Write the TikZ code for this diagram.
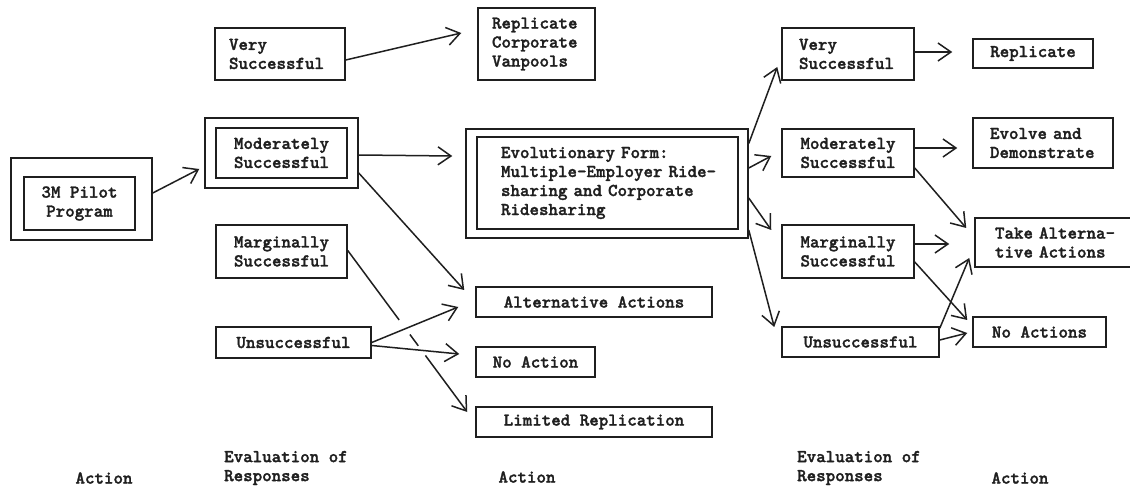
\documentclass[tikz,border=0pt]{standalone}
\usepackage{fontspec}
\usetikzlibrary{arrows.meta,calc}
\definecolor{ink}{rgb}{0.12,0.12,0.12}
\newfontfamily\typewriterbold{lmmonolt10-bold.otf}[FakeBold=1.6]
\newcommand\diagfont{\fontsize{18.1}{19}\selectfont\typewriterbold}
\tikzset{
  box/.style={draw=ink, line width=1.5pt, inner sep=0pt, text=ink, font=\diagfont},
  cbox/.style={box, align=center},
  lbox/.style={box, align=left},
  link/.style={draw=ink, line width=1.5pt},
  arr/.style={link, -{Straight Barb[length=13pt,width=18pt]}},
  lab/.style={text=ink, font=\diagfont, inner sep=0pt, align=left},
}
\begin{document}
\begin{tikzpicture}[x=1pt,y=-1pt]
\clip (0,0) rectangle (1130,486);
\fill[white] (0,0) rectangle (1130,486);

% ---- first action and its evaluation
\node[box, minimum width=141pt, minimum height=82pt] (pilot) at (81.5,199) {};
\node[cbox, minimum width=111pt, minimum height=53pt] (pilotin) at (79.5,203.5) {3M Pilot\\Program};

\node[lbox, text width=102pt, inner xsep=14pt, minimum height=52pt] (vs1) at (280,54) {Very\\Successful};
\node[box, minimum width=153pt, minimum height=70pt] (ms1) at (281.5,153) {};
\node[cbox, minimum width=131pt, minimum height=50pt] (ms1in) at (281.5,153) {Moderately\\Successful};
\node[cbox, minimum width=131pt, minimum height=53pt] (mg1) at (281.5,251.5) {Marginally\\Successful};
\node[cbox, minimum width=155pt, minimum height=31pt] (us1) at (293.5,342.5) {Unsuccessful};

% ---- second action
\node[lbox, text width=89pt, inner xsep=14pt, minimum height=72pt] (rcv) at (536.5,44) {Replicate\\Corporate\\Vanpools};
\node[box, minimum width=282pt, minimum height=109pt] (evo) at (607,183.5) {};
\node[lbox, text width=213pt, inner xsep=24pt, minimum height=92pt] (evoin) at (607.5,183)
  {\mbox{Evolutionary Form:}\\\mbox{Multiple-Employer Ride-}\\\mbox{sharing and Corporate}\\\mbox{Ridesharing}};
\node[cbox, minimum width=236pt, minimum height=30pt] (alt) at (594,302) {Alternative Actions};
\node[cbox, minimum width=119pt, minimum height=30pt] (noa) at (535.5,362) {No Action};
\node[cbox, minimum width=236pt, minimum height=30pt] (lim) at (594,422) {Limited Replication};

% ---- second evaluation
\node[lbox, text width=98pt, inner xsep=17pt, minimum height=52pt] (vs2) at (848,54) {Very\\Successful};
\node[cbox, minimum width=132pt, minimum height=48pt] (ms2) at (848,153) {Moderately\\Successful};
\node[cbox, minimum width=132pt, minimum height=53pt] (mg2) at (848,251.5) {Marginally\\Successful};
\node[cbox, minimum width=157pt, minimum height=30pt] (us2) at (860.5,342) {Unsuccessful};

% ---- third action
\node[cbox, minimum width=120pt, minimum height=29pt] (rep) at (1033,53.5) {Replicate};
\node[lbox, text width=106pt, inner xsep=17pt, minimum height=50pt] (evd) at (1043,143) {Evolve and\\\mbox{Demonstrate}};
\node[lbox, text width=117pt, inner xsep=20pt, minimum height=49pt] (tak) at (1053.5,242.5) {\mbox{Take Alterna-}\\\mbox{tive Actions}};
\node[cbox, minimum width=133pt, minimum height=30pt] (noas) at (1039.5,332) {No Actions};

% ---- column captions
\node[lab] (act1) at (104,478) {Action};
\node[lab, anchor=west] (eval1) at (224,468) {Evaluation of\\Responses};
\node[lab] (act2) at (527,477) {Action};
\node[lab, anchor=west] (eval2) at (797,468) {Evaluation of\\Responses};
\node[lab] (act3) at (1020,478) {Action};

% ---- connectors, left half
\draw[arr] ($(pilot.east)+(0,-6)$) -- ($(ms1.west)+(-5,16)$);
\draw[arr] ($(vs1.east)+(0,6)$) -- ($(rcv.west)+(-16,-11)$);
\draw[arr] ($(ms1.east)+(0,2)$) -- ($(evo.west)+(-13,-27.5)$);
\draw[arr] ($(ms1.east)+(0,20)$) -- ($(alt.west)+(-11,-12)$);
\coordinate (mgs) at ($(mg1.east)+(0,-1)$);
\coordinate (mge) at ($(lim.west)+(-8,-10)$);
\draw[link] (mgs) -- ($(mgs)!0.43!(mge)$);
\draw[link] ($(mgs)!0.52!(mge)$) -- ($(mgs)!0.59!(mge)$);
\draw[arr] ($(mgs)!0.65!(mge)$) -- (mge);
\draw[arr] (us1.east) -- ($(alt.west)+(-17,5)$);
\draw[arr] ($(us1.east)+(0,3)$) -- ($(noa.west)+(-16,-8)$);

% ---- connectors, right half
\draw[arr] ($(evo.east)+(0,-40)$) -- ($(vs2.west)+(-4,13)$);
\draw[arr] ($(evo.east)+(0,-15.5)$) -- ($(ms2.west)+(-10,3)$);
\draw[arr] ($(evo.east)+(0,14.5)$) -- ($(mg2.west)+(-10,-21.5)$);
\draw[arr] ($(evo.east)+(0,46.5)$) -- ($(us2.west)+(-7,-15)$);
\draw[arr] ($(vs2.east)+(0,-2)$) -- ($(rep.west)+(-20,-1.5)$);
\draw[arr] ($(ms2.east)+(0,-5)$) -- ($(evd.west)+(-15,5)$);
\draw[arr] ($(ms2.east)+(0,15)$) -- ($(tak.west)+(-8,-14.5)$);
\draw[arr] ($(mg2.east)+(0,-7.5)$) -- ($(tak.west)+(-25,1.5)$);
\draw[arr] ($(mg2.east)+(0,10.5)$) -- ($(noas.west)+(-5,-12)$);
\draw[arr] ($(us2.north east)+(0,2)$) -- ($(tak.west)+(-5,15.5)$);
\draw[arr] ($(us2.east)+(0,-2)$) -- ($(noas.west)+(-5,1)$);
\end{tikzpicture}
\end{document}
